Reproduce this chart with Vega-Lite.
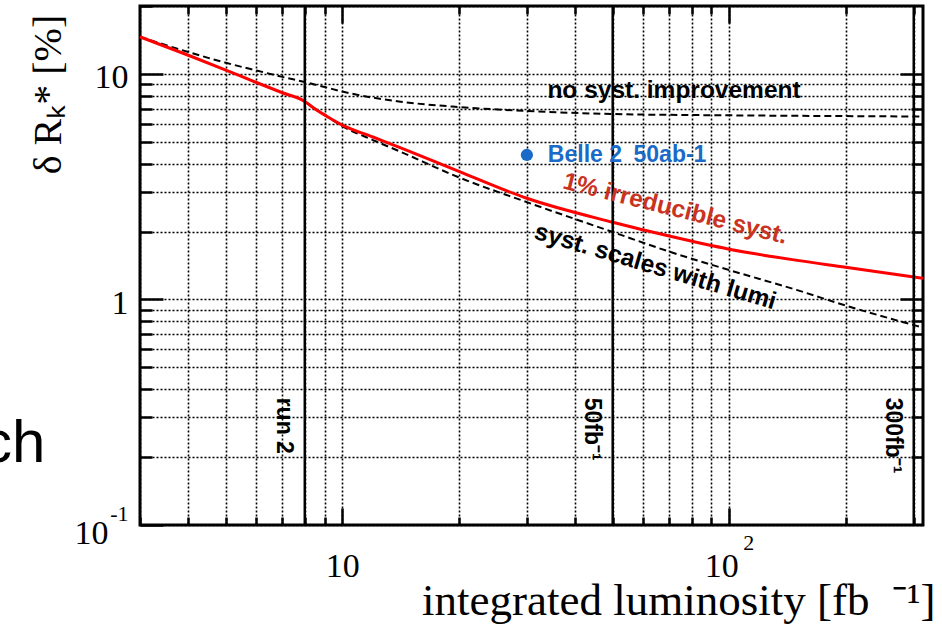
{
  "$schema": "https://vega.github.io/schema/vega-lite/v6.json",
  "width": 783,
  "height": 519,
  "autosize": "none",
  "padding": {"left": 140, "top": 6, "right": 19, "bottom": 99},
  "background": "white",
  "config": {
    "view": {"stroke": "black", "strokeWidth": 3},
    "axis": {
      "domain": false,
      "tickColor": "black",
      "tickWidth": 2.5,
      "gridColor": "black",
      "gridDash": [2, 2],
      "gridWidth": 1.6,
      "gridOpacity": 1,
      "labelFont": "Liberation Serif",
      "titleFont": "Liberation Serif",
      "labelColor": "black",
      "titleColor": "black",
      "titleFontWeight": "normal",
      "labelOverlap": false,
      "labelFlush": false,
      "labelBound": false
    }
  },
  "datasets": {
    "curves": [
      {"series": "no syst. improvement", "lumi": 3, "err": 14.6},
      {"series": "no syst. improvement", "lumi": 4, "err": 12.5},
      {"series": "no syst. improvement", "lumi": 5, "err": 11.2},
      {"series": "no syst. improvement", "lumi": 6, "err": 10.35},
      {"series": "no syst. improvement", "lumi": 7, "err": 9.7},
      {"series": "no syst. improvement", "lumi": 8, "err": 9.2},
      {"series": "no syst. improvement", "lumi": 9, "err": 8.75},
      {"series": "no syst. improvement", "lumi": 10, "err": 8.35},
      {"series": "no syst. improvement", "lumi": 14, "err": 7.55},
      {"series": "no syst. improvement", "lumi": 20, "err": 7.13},
      {"series": "no syst. improvement", "lumi": 30, "err": 6.85},
      {"series": "no syst. improvement", "lumi": 50, "err": 6.64},
      {"series": "no syst. improvement", "lumi": 100, "err": 6.55},
      {"series": "no syst. improvement", "lumi": 200, "err": 6.5},
      {"series": "no syst. improvement", "lumi": 317, "err": 6.47},
      {"series": "syst. scales with lumi", "lumi": 8, "err": 7.55},
      {"series": "syst. scales with lumi", "lumi": 9, "err": 6.58},
      {"series": "syst. scales with lumi", "lumi": 10, "err": 5.87},
      {"series": "syst. scales with lumi", "lumi": 12, "err": 5.09},
      {"series": "syst. scales with lumi", "lumi": 14, "err": 4.55},
      {"series": "syst. scales with lumi", "lumi": 20, "err": 3.48},
      {"series": "syst. scales with lumi", "lumi": 30, "err": 2.7},
      {"series": "syst. scales with lumi", "lumi": 50, "err": 1.99},
      {"series": "syst. scales with lumi", "lumi": 70, "err": 1.63},
      {"series": "syst. scales with lumi", "lumi": 100, "err": 1.35},
      {"series": "syst. scales with lumi", "lumi": 150, "err": 1.1},
      {"series": "syst. scales with lumi", "lumi": 200, "err": 0.94},
      {"series": "syst. scales with lumi", "lumi": 317, "err": 0.75},
      {"series": "1% irreducible syst.", "lumi": 3, "err": 14.6},
      {"series": "1% irreducible syst.", "lumi": 4, "err": 12.1},
      {"series": "1% irreducible syst.", "lumi": 5, "err": 10.4},
      {"series": "1% irreducible syst.", "lumi": 6, "err": 9.16},
      {"series": "1% irreducible syst.", "lumi": 7, "err": 8.25},
      {"series": "1% irreducible syst.", "lumi": 8, "err": 7.55},
      {"series": "1% irreducible syst.", "lumi": 8.5, "err": 6.99},
      {"series": "1% irreducible syst.", "lumi": 9, "err": 6.58},
      {"series": "1% irreducible syst.", "lumi": 10, "err": 5.93},
      {"series": "1% irreducible syst.", "lumi": 12, "err": 5.25},
      {"series": "1% irreducible syst.", "lumi": 14, "err": 4.74},
      {"series": "1% irreducible syst.", "lumi": 20, "err": 3.7},
      {"series": "1% irreducible syst.", "lumi": 30, "err": 2.81},
      {"series": "1% irreducible syst.", "lumi": 50, "err": 2.2},
      {"series": "1% irreducible syst.", "lumi": 70, "err": 1.91},
      {"series": "1% irreducible syst.", "lumi": 100, "err": 1.67},
      {"series": "1% irreducible syst.", "lumi": 150, "err": 1.49},
      {"series": "1% irreducible syst.", "lumi": 200, "err": 1.39},
      {"series": "1% irreducible syst.", "lumi": 317, "err": 1.24}
    ],
    "notes": [
      {"series": "no syst. improvement", "lumi": 33.9, "err": 8.4},
      {"series": "1% irreducible syst.", "lumi": 72.5, "err": 2.51},
      {"series": "syst. scales with lumi", "lumi": 64.4, "err": 1.39}
    ],
    "milestones": [
      {"lumi": 8, "label": "run 2"},
      {"lumi": 50, "label": "50fb⁻¹"},
      {"lumi": 300, "label": "300fb⁻¹"}
    ],
    "belle": [
      {"lumi": 30, "err": 4.37, "label": "Belle 2\u200250ab-1"}
    ],
    "slide": [
      {"lumi": 1.709, "err": 0.1905, "label": "ch"}
    ]
  },
  "resolve": {"axis": {"x": "independent", "y": "independent"}},
  "layer": [
    {
      "data": {"name": "curves"},
      "transform": [{"filter": "datum.series != '1% irreducible syst.'"}],
      "mark": {"type": "line", "color": "black", "strokeWidth": 2, "strokeDash": [7, 4], "interpolate": "monotone"},
      "encoding": {
        "x": {
          "field": "lumi", "type": "quantitative",
          "scale": {"type": "log", "domain": [3, 317], "nice": false},
          "axis": {
            "orient": "bottom",
            "values": [3, 4, 5, 6, 7, 8, 9, 10, 20, 30, 40, 50, 60, 70, 80, 90, 100, 200, 300],
            "grid": true,
            "tickSize": {"condition": {"test": "datum.value == 10 || datum.value == 100", "value": -17}, "value": -8},
            "labelExpr": "(datum.value == 10 || datum.value == 100) ? '10' : ''",
            "labelFontSize": 34,
            "labelPadding": 41,
            "labelBaseline": "top",
            "labelAlign": "center",
            "labelOffset": {"condition": {"test": "datum.value == 100", "value": -8}, "value": 0},
            "title": "integrated luminosity [fb\u2002⁻¹]",
            "titleFontSize": 45,
            "titleX": 795,
            "titleY": 89,
            "titleAlign": "right",
            "titleBaseline": "alphabetic",
            "titleAngle": 0
          }
        },
        "y": {
          "field": "err", "type": "quantitative",
          "scale": {"type": "log", "domain": [0.1, 20], "nice": false},
          "axis": {
            "orient": "left",
            "values": [0.1, 0.2, 0.3, 0.4, 0.5, 0.6, 0.7, 0.8, 0.9, 1, 2, 3, 4, 5, 6, 7, 8, 9, 10, 20],
            "grid": true,
            "tickSize": {"condition": {"test": "datum.value == 0.1 || datum.value == 1 || datum.value == 10", "value": -23}, "value": -12},
            "labelExpr": "datum.value == 1 ? '1' : (datum.value == 10 || datum.value == 0.1) ? '10' : ''",
            "labelFontSize": 34,
            "labelPadding": {"condition": {"test": "datum.value == 0.1", "value": 55}, "value": 35},
            "labelAlign": "right",
            "labelBaseline": "middle",
            "labelOffset": {"condition": {"test": "datum.value == 0.1", "value": 8}, "value": 4},
            "title": "δ Rₖ* [%]",
            "titleFontSize": 40,
            "titleX": -80,
            "titleY": 88,
            "titleAngle": 270,
            "titleAlign": "center",
            "titleBaseline": "alphabetic"
          }
        },
        "detail": {"field": "series"}
      }
    },
    {
      "data": {"name": "curves"},
      "transform": [{"filter": "datum.series == '1% irreducible syst.'"}],
      "mark": {"type": "line", "color": "#ff0000", "strokeWidth": 3, "interpolate": "monotone"},
      "encoding": {
        "x": {
          "field": "lumi", "type": "quantitative",
          "scale": {"type": "log", "domain": [3, 317], "nice": false},
          "axis": {
            "orient": "bottom", "values": [100], "ticks": false, "grid": false,
            "labelExpr": "'2'", "labelFontSize": 22, "labelPadding": 7,
            "labelBaseline": "top", "labelOffset": 19, "title": null
          }
        },
        "y": {
          "field": "err", "type": "quantitative",
          "scale": {"type": "log", "domain": [0.1, 20], "nice": false},
          "axis": {
            "orient": "left", "values": [0.1], "ticks": false, "grid": false,
            "labelExpr": "'-1'", "labelFontSize": 22, "labelPadding": 12,
            "labelAlign": "right", "labelBaseline": "middle", "labelOffset": -12, "title": null
          }
        }
      }
    },
    {
      "data": {"name": "milestones"},
      "mark": {"type": "rule", "color": "black", "strokeWidth": 2.5},
      "encoding": {
        "x": {"field": "lumi", "type": "quantitative", "scale": {"type": "log", "domain": [3, 317], "nice": false}, "axis": null}
      }
    },
    {
      "data": {"name": "milestones"},
      "mark": {"type": "text", "angle": 90, "align": "left", "baseline": "middle", "dy": 21, "font": "Liberation Sans", "fontWeight": "bold", "fontSize": 23, "color": "black"},
      "encoding": {
        "x": {"field": "lumi", "type": "quantitative", "scale": {"type": "log", "domain": [3, 317], "nice": false}, "axis": null},
        "y": {"datum": 0.367, "type": "quantitative", "scale": {"type": "log", "domain": [0.1, 20], "nice": false}, "axis": null},
        "text": {"field": "label"}
      }
    },
    {
      "data": {"name": "belle"},
      "mark": {"type": "circle", "color": "#1a6ac7", "opacity": 1, "size": 150},
      "encoding": {
        "x": {
          "field": "lumi", "type": "quantitative",
          "scale": {"type": "log", "domain": [3, 317], "nice": false},
          "axis": {
            "orient": "top",
            "values": [4, 5, 6, 7, 8, 9, 10, 20, 30, 40, 50, 60, 70, 80, 90, 100, 200, 300],
            "grid": false, "labels": false, "title": null,
            "tickSize": {"condition": {"test": "datum.value == 10 || datum.value == 100", "value": -17}, "value": -8}
          }
        },
        "y": {
          "field": "err", "type": "quantitative",
          "scale": {"type": "log", "domain": [0.1, 20], "nice": false},
          "axis": {
            "orient": "right",
            "values": [0.2, 0.3, 0.4, 0.5, 0.6, 0.7, 0.8, 0.9, 1, 2, 3, 4, 5, 6, 7, 8, 9, 10],
            "grid": false, "labels": false, "title": null,
            "tickSize": {"condition": {"test": "datum.value == 1 || datum.value == 10", "value": -23}, "value": -12}
          }
        }
      }
    },
    {
      "data": {"name": "belle"},
      "mark": {"type": "text", "align": "left", "baseline": "middle", "dx": 21, "font": "Liberation Sans", "fontWeight": "bold", "fontSize": 23, "color": "#1a6ac7"},
      "encoding": {
        "x": {"field": "lumi", "type": "quantitative", "scale": {"type": "log", "domain": [3, 317], "nice": false}, "axis": null},
        "y": {"field": "err", "type": "quantitative", "scale": {"type": "log", "domain": [0.1, 20], "nice": false}, "axis": null},
        "text": {"field": "label"}
      }
    },
    {
      "data": {"name": "notes"},
      "transform": [{"filter": "datum.series == 'no syst. improvement'"}],
      "mark": {"type": "text", "align": "left", "baseline": "middle", "font": "Liberation Sans", "fontWeight": "bold", "fontSize": 24.5, "color": "black"},
      "encoding": {
        "x": {"field": "lumi", "type": "quantitative", "scale": {"type": "log", "domain": [3, 317], "nice": false}, "axis": null},
        "y": {"field": "err", "type": "quantitative", "scale": {"type": "log", "domain": [0.1, 20], "nice": false}, "axis": null},
        "text": {"field": "series"}
      }
    },
    {
      "data": {"name": "notes"},
      "transform": [{"filter": "datum.series == '1% irreducible syst.'"}],
      "mark": {"type": "text", "align": "center", "baseline": "middle", "angle": 14, "font": "Liberation Sans", "fontWeight": "bold", "fontSize": 24.5, "color": "#c9331f"},
      "encoding": {
        "x": {"field": "lumi", "type": "quantitative", "scale": {"type": "log", "domain": [3, 317], "nice": false}, "axis": null},
        "y": {"field": "err", "type": "quantitative", "scale": {"type": "log", "domain": [0.1, 20], "nice": false}, "axis": null},
        "text": {"field": "series"}
      }
    },
    {
      "data": {"name": "notes"},
      "transform": [{"filter": "datum.series == 'syst. scales with lumi'"}],
      "mark": {"type": "text", "align": "center", "baseline": "middle", "angle": 16.5, "font": "Liberation Sans", "fontWeight": "bold", "fontSize": 24.5, "color": "black"},
      "encoding": {
        "x": {"field": "lumi", "type": "quantitative", "scale": {"type": "log", "domain": [3, 317], "nice": false}, "axis": null},
        "y": {"field": "err", "type": "quantitative", "scale": {"type": "log", "domain": [0.1, 20], "nice": false}, "axis": null},
        "text": {"field": "series"}
      }
    },
    {
      "data": {"name": "slide"},
      "mark": {"type": "text", "align": "right", "baseline": "alphabetic", "font": "Liberation Sans", "fontSize": 60, "color": "black"},
      "encoding": {
        "x": {"field": "lumi", "type": "quantitative", "scale": {"type": "log", "domain": [3, 317], "nice": false}, "axis": null},
        "y": {"field": "err", "type": "quantitative", "scale": {"type": "log", "domain": [0.1, 20], "nice": false}, "axis": null},
        "text": {"field": "label"}
      }
    }
  ]
}
